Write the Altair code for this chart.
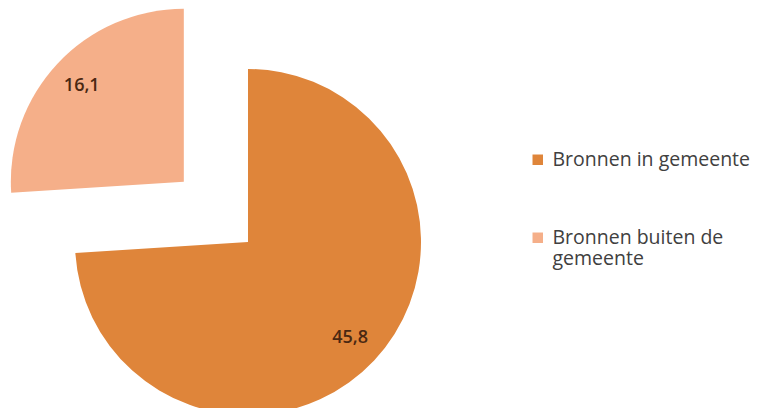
import altair as alt
import pandas as pd

categories = ["Bronnen in gemeente", "Bronnen buiten de gemeente"]
values = [45.8, 16.1]
order = [0, 1]
colors = ["#DF853A", "#F5AF89"]

df = pd.DataFrame({"category": categories, "value": values, "order": order})

CX, CY = 240, 234
R = 173
EXPLODE = 88
LABEL_R = 140

base = (
    alt.Chart(df)
    .transform_joinaggregate(total="sum(value)")
    .transform_window(cum="sum(value)", sort=[alt.SortField("order")], frame=[None, 0])
    .transform_calculate(
        start="(datum.cum - datum.value) / datum.total * 2 * PI",
        end="datum.cum / datum.total * 2 * PI",
    )
    .transform_calculate(mid="(datum.start + datum.end) / 2")
    .transform_calculate(
        ex=f"datum.category == '{categories[1]}' ? {EXPLODE} : 0",
    )
    .transform_calculate(
        cx=f"{CX} + datum.ex * sin(datum.mid)",
        cy=f"{CY} - datum.ex * cos(datum.mid)",
    )
    .transform_calculate(
        lx=f"datum.cx + {LABEL_R} * sin(datum.mid)",
        ly=f"datum.cy - {LABEL_R} * cos(datum.mid)",
        label="replace(format(datum.value, '.1f'), '.', ',')",
    )
)

arcs = base.mark_arc(radius=R).encode(
    theta=alt.Theta("start:Q", scale=None),
    theta2="end:Q",
    x=alt.X("cx:Q", scale=None, axis=None),
    y=alt.Y("cy:Q", scale=None, axis=None),
    color=alt.Color(
        "category:N",
        scale=alt.Scale(domain=categories, range=colors),
        sort=categories,
        legend=alt.Legend(
            title=None,
            orient="none",
            legendX=520,
            legendY=142,
            symbolType="square",
            symbolSize=110,
            symbolStrokeWidth=0,
            labelFont="Open Sans",
            labelFontSize=19.5,
            labelColor="#404040",
            labelOffset=5,
            labelLimit=300,
            rowPadding=57,
            padding=0,
            labelExpr=f"datum.label == '{categories[1]}' ? ['Bronnen buiten de', 'gemeente'] : datum.label",
        ),
    ),
    order=alt.Order("order:Q"),
)

texts = base.mark_text(
    font="Open Sans", fontSize=18, fontWeight=600, color="#4A2812"
).encode(
    x=alt.X("lx:Q", scale=None, axis=None),
    y=alt.Y("ly:Q", scale=None, axis=None),
    text="label:N",
)

chart = (
    alt.layer(arcs, texts)
    .properties(width=747, height=400, autosize=alt.AutoSizeParams(type="none"), padding=0)
    .configure(background="white")
    .configure_view(stroke=None)
)

chart.save("out.html", embed_options={"renderer": "svg", "actions": False})
